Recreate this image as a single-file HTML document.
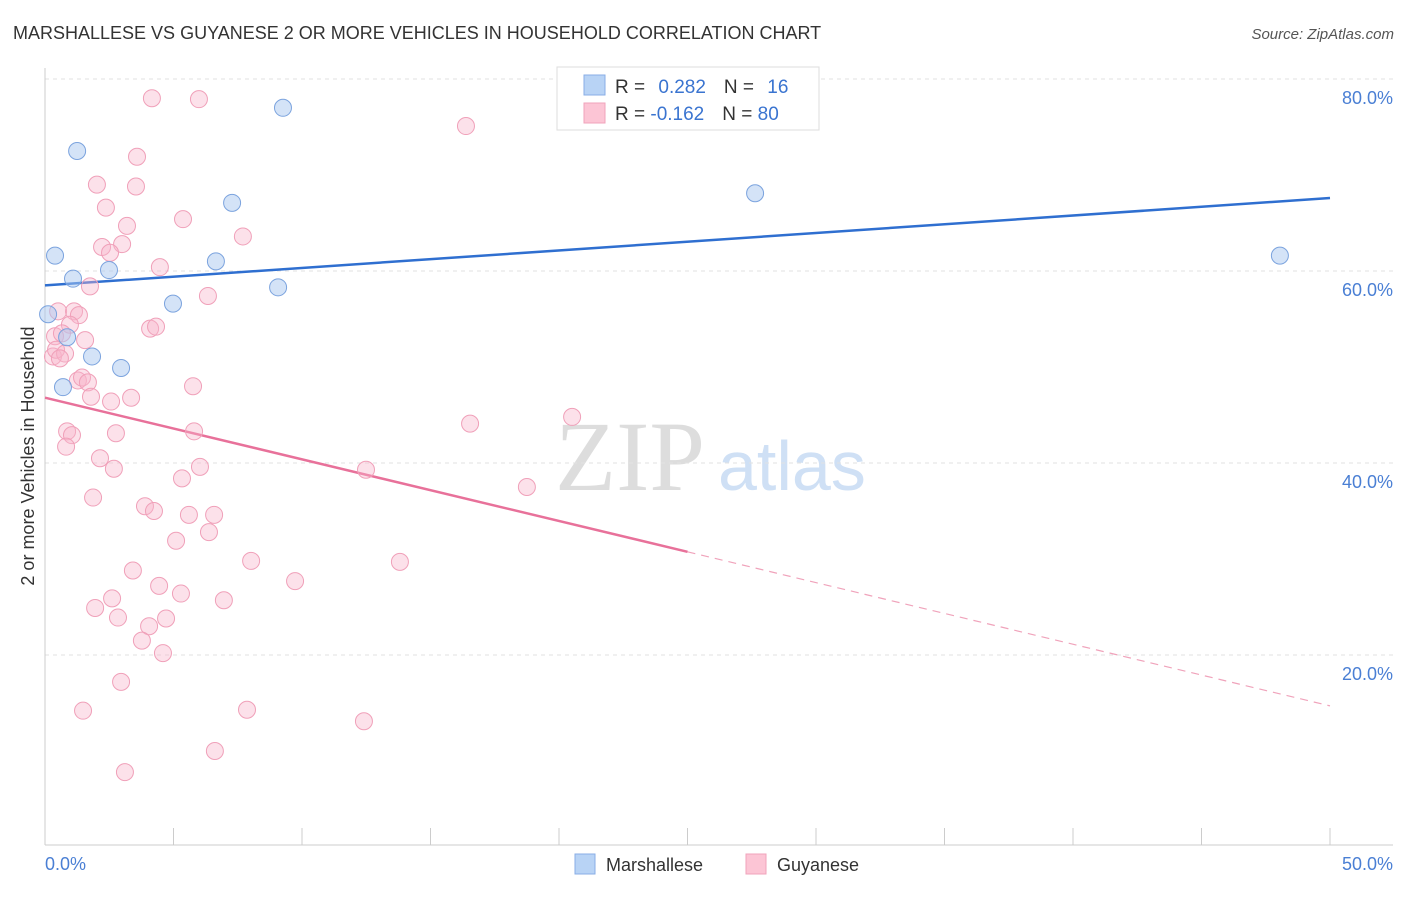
<!DOCTYPE html>
<html><head><meta charset="utf-8"><style>
body{margin:0;background:#fff;font-family:"Liberation Sans",sans-serif}
svg text{font-family:"Liberation Sans",sans-serif}
</style></head><body>
<svg id="c" width="1406" height="892" xmlns="http://www.w3.org/2000/svg">
<text x="13" y="39" font-size="18" fill="#333">MARSHALLESE VS GUYANESE 2 OR MORE VEHICLES IN HOUSEHOLD CORRELATION CHART</text>
<text x="1394" y="39" font-size="15" fill="#555" font-style="italic" text-anchor="end">Source: ZipAtlas.com</text>
<text x="555" y="490" font-size="100" fill="#ddd" font-family="Liberation Serif" style="font-family:'Liberation Serif',serif">ZIP</text>
<text x="718" y="490" font-size="70" fill="#cfe0f5">atlas</text>
<g id="grid"></g><g id="axes"></g><g id="lines"></g><g id="pts"></g>
<text transform="translate(34,456) rotate(-90)" font-size="18" fill="#333" text-anchor="middle">2 or more Vehicles in Household</text>
<text x="45" y="870" font-size="18" fill="#4a7fd4">0.0%</text>
<text x="1393" y="870" font-size="18" fill="#4a7fd4" text-anchor="end">50.0%</text>
<g>
<rect x="557" y="67" width="262" height="63" fill="#fff" stroke="#ddd"/>
<rect x="584" y="75" width="21" height="20" fill="#b8d3f5" stroke="#88aee6"/>
<rect x="584" y="103" width="21" height="20" fill="#fcc5d5" stroke="#f0a3bb"/>
<text x="615" y="93" font-size="19" fill="#333">R = <tspan fill="#3a74d0" dx="8">0.282</tspan><tspan dx="18" fill="#333">N = </tspan><tspan dx="8" fill="#3a74d0">16</tspan></text>
<text x="615" y="120" font-size="19" fill="#333">R = <tspan fill="#3a74d0">-0.162</tspan><tspan dx="18" fill="#333">N = </tspan><tspan fill="#3a74d0">80</tspan></text>
</g>
<g>
<rect x="575" y="854" width="20" height="20" fill="#b8d3f5" stroke="#88aee6"/>
<text x="606" y="871" font-size="18" fill="#333">Marshallese</text>
<rect x="746" y="854" width="20" height="20" fill="#fcc5d5" stroke="#f0a3bb"/>
<text x="777" y="871" font-size="18" fill="#333">Guyanese</text>
</g>
</svg>
<script>
const yTicks=[20,40,60,80];
const yTickLabels=["20.0%","40.0%","60.0%","80.0%"];
const xTicks=[0,5,10,15,20,25,30,35,40,45,50];
const blueX=[0.39,1.25,1.09,2.49,0.12,0.86,1.83,0.70,2.96,4.98,6.65,7.28,9.07,9.26,27.63,48.05];
const blueY=[61.6,72.5,59.2,60.1,55.5,53.1,51.1,47.9,49.9,56.6,61.0,67.1,58.3,77.0,68.1,61.6];
const pinkX=[4.16,5.99,16.38,3.58,2.02,3.54,2.37,5.37,3.19,7.70,2.22,3.00,2.53,4.47,1.75,6.34,0.51,1.13,1.32,0.97,4.09,4.32,1.56,0.39,0.66,0.31,0.43,0.78,0.58,1.28,1.44,1.67,5.76,1.79,2.57,3.35,0.86,1.05,2.76,5.80,16.54,20.51,0.82,2.14,2.68,6.03,5.33,12.49,18.75,1.87,3.89,4.24,5.60,6.58,6.38,5.10,8.02,13.81,3.42,4.44,9.73,5.29,2.61,6.96,1.95,2.84,4.71,4.05,3.77,4.59,2.96,1.48,7.86,12.41,6.61,3.11];
const pinkY=[78.0,77.9,75.1,71.9,69.0,68.8,66.6,65.4,64.7,63.6,62.5,62.8,61.9,60.4,58.4,57.4,55.8,55.8,55.4,54.4,54.0,54.2,52.8,53.2,53.5,51.1,51.8,51.4,50.9,48.6,48.9,48.4,48.0,46.9,46.4,46.8,43.3,42.9,43.1,43.3,44.1,44.8,41.7,40.5,39.4,39.6,38.4,39.3,37.5,36.4,35.5,35.0,34.6,34.6,32.8,31.9,29.8,29.7,28.8,27.2,27.7,26.4,25.9,25.7,24.9,23.9,23.8,23.0,21.5,20.2,17.2,14.2,14.3,13.1,10.0,7.8];
const blueTrend=[58.5,67.6];
const pinkTrend=[46.8,14.7];
const pinkSolidEnd=25;
const NS="http://www.w3.org/2000/svg";
const X=v=>45+v*25.7, Y=v=>847-v*9.6;
function mk(t,a,p){const e=document.createElementNS(NS,t);for(const k in a)e.setAttribute(k,a[k]);document.getElementById(p).appendChild(e);return e;}
yTicks.forEach((t,i)=>{
 const l=mk('line',{x1:45,x2:1393,y1:Y(t),y2:Y(t),stroke:'#e2e2e2','stroke-dasharray':'4,4'},'grid');
 
 
 const tx=mk('text',{x:1393,y:Y(t)+25,'font-size':18,fill:'#4a7fd4','text-anchor':'end'},'grid');
 tx.textContent=yTickLabels[i];
 
 
});
const tg=mk('line',{x1:45,x2:1393,y1:79,y2:79,stroke:'#e2e2e2','stroke-dasharray':'4,4'},'grid');


const ya=mk('line',{x1:45,x2:45,y1:68,y2:845,stroke:'#ccc'},'axes');


const xa=mk('line',{x1:45,x2:1393,y1:845,y2:845,stroke:'#ccc'},'axes');


xTicks.forEach(t=>{
 const e=mk('line',{x1:X(t),x2:X(t),y1:828,y2:845,stroke:'#ccc'},'axes');
 
 
});
const bl=mk('line',{x1:X(0),x2:X(50),y1:Y(blueTrend[0]),y2:Y(blueTrend[1]),stroke:'#2f6fd0','stroke-width':2.5},'lines');


const pm=pinkTrend[0]+(pinkTrend[1]-pinkTrend[0])*pinkSolidEnd/50;
const pl=mk('line',{x1:X(0),x2:X(pinkSolidEnd),y1:Y(pinkTrend[0]),y2:Y(pm),stroke:'#e8719a','stroke-width':2.5},'lines');


const pd=mk('line',{x1:X(pinkSolidEnd),x2:X(50),y1:Y(pm),y2:Y(pinkTrend[1]),stroke:'#f0a3bb','stroke-width':1.2,'stroke-dasharray':'8,6'},'lines');


pinkX.forEach((v,i)=>{
 const c=mk('circle',{cx:X(v),cy:Y(pinkY[i]),r:8.5,fill:'rgba(248,180,202,0.4)',stroke:'#f0a0b9','stroke-width':1},'pts');
 
 
});
blueX.forEach((v,i)=>{
 const c=mk('circle',{cx:X(v),cy:Y(blueY[i]),r:8.5,fill:'rgba(170,200,240,0.5)',stroke:'#7ba3de','stroke-width':1},'pts');
 
 
});
</script>
</body></html>
